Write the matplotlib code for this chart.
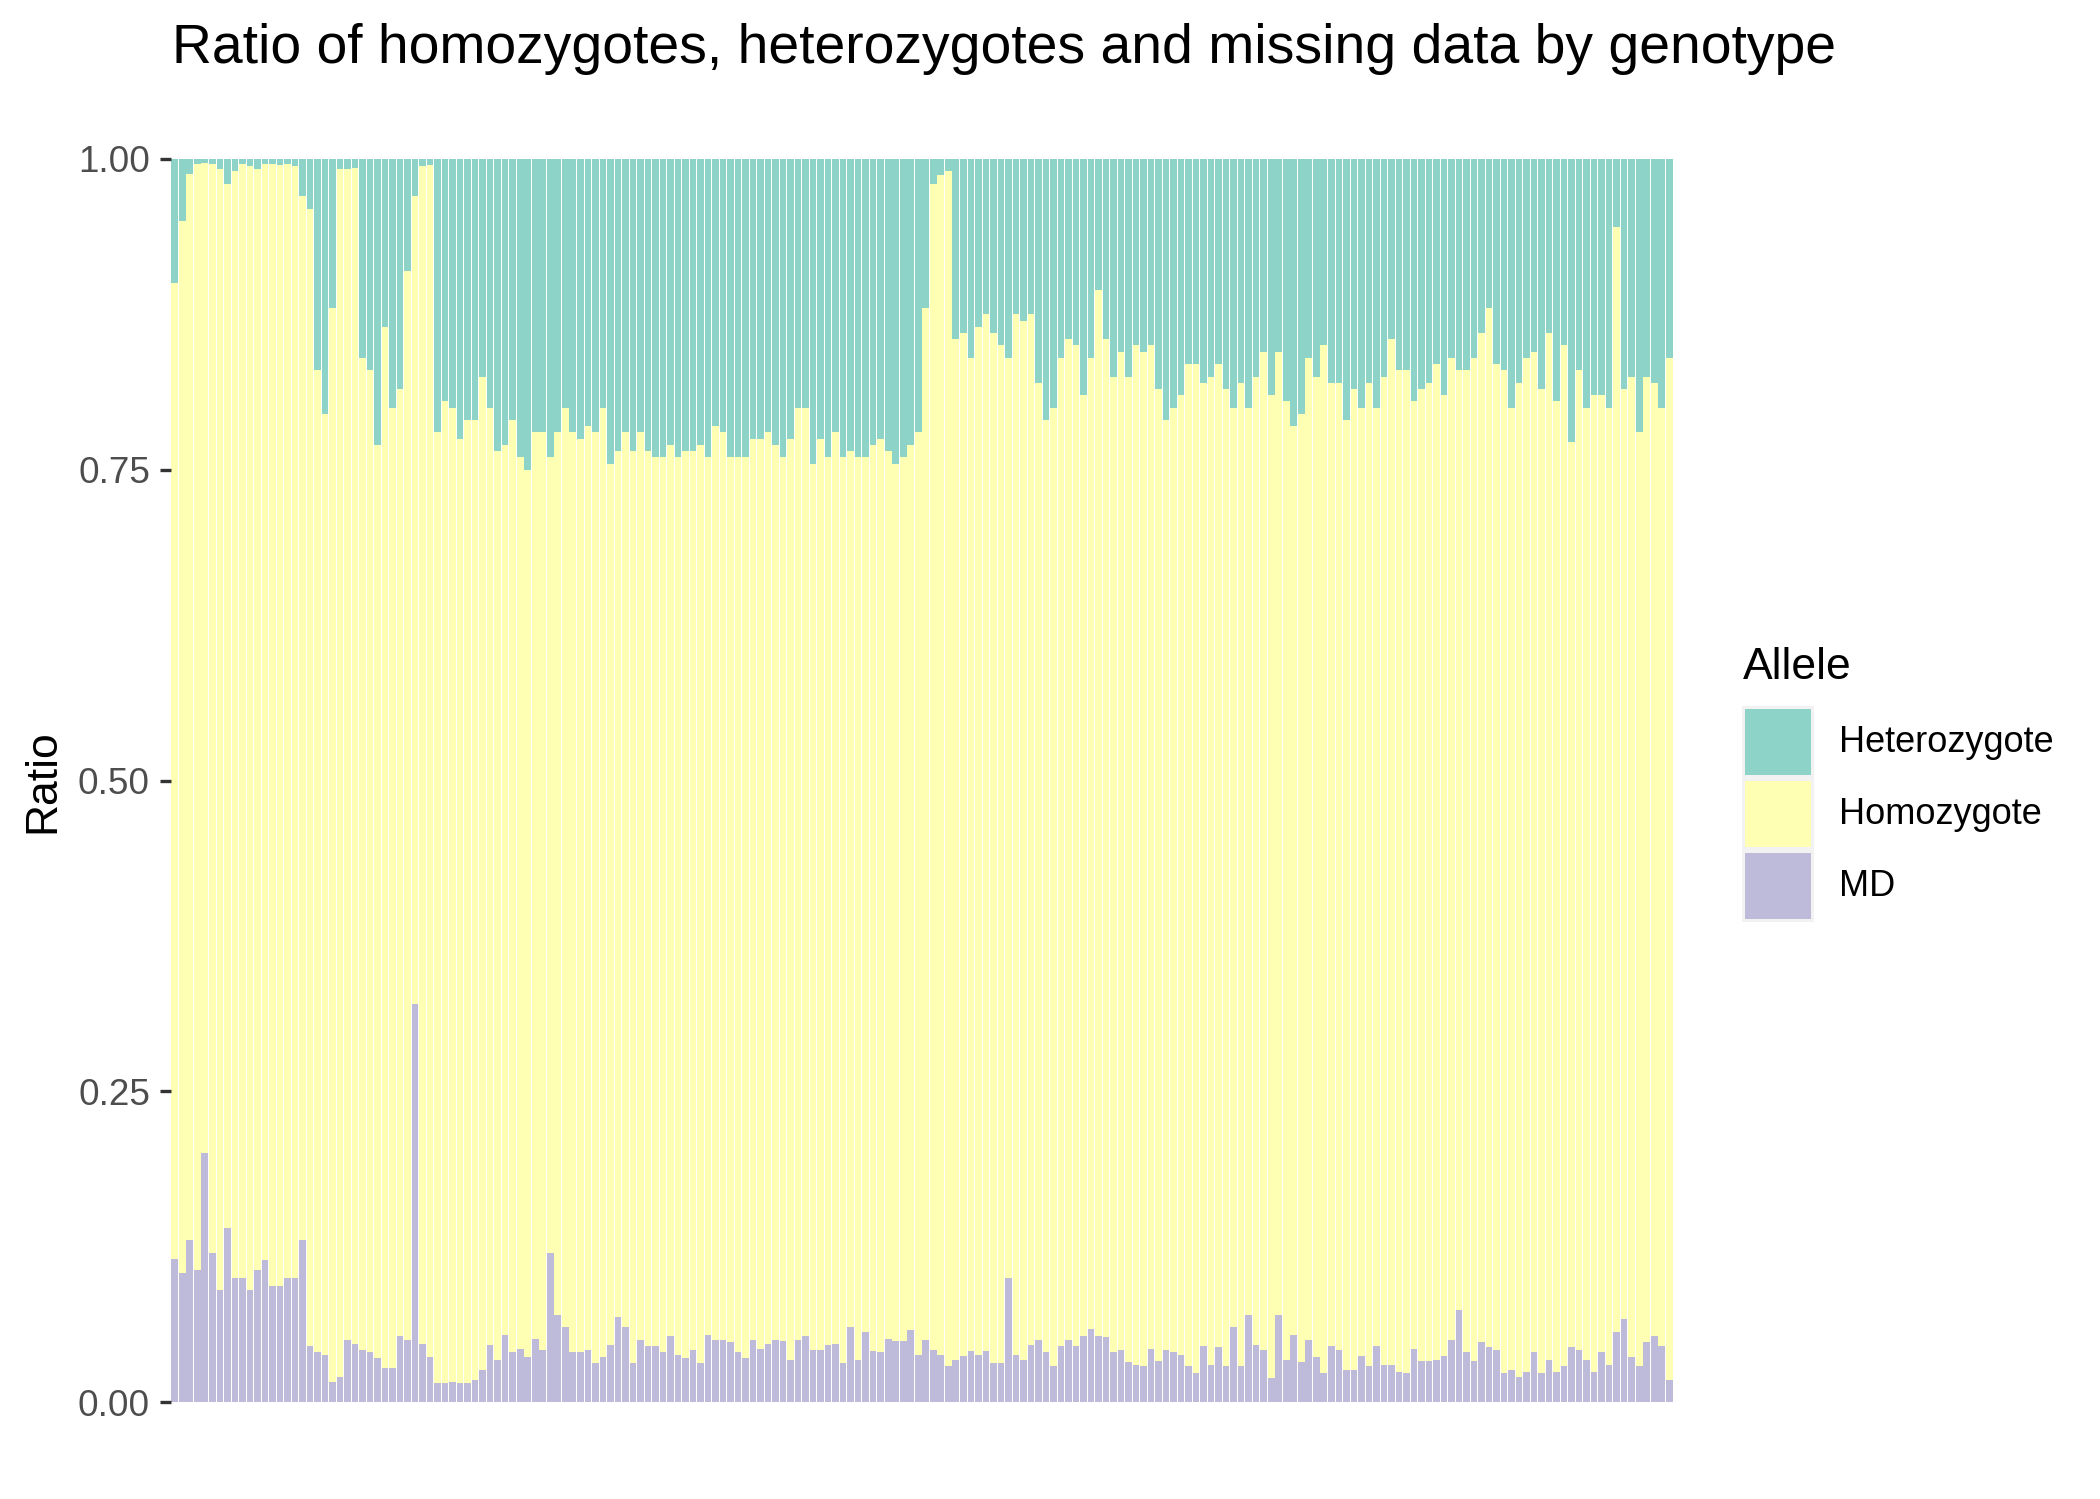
import numpy as np
import matplotlib
matplotlib.use("Agg")
import matplotlib.pyplot as plt
from matplotlib.patches import Rectangle

plt.rcParams['font.family'] = ['Liberation Sans', 'DejaVu Sans']

# heterozygote ratio per genotype (top part of each bar)
het = [
    0.10, 0.05, 0.012, 0.004, 0.003, 0.004, 0.008, 0.02, 0.01, 0.004,
    0.006, 0.008, 0.004, 0.004, 0.005, 0.004, 0.006, 0.03, 0.04, 0.17,
    0.205, 0.12, 0.008, 0.008, 0.007, 0.16, 0.17, 0.23, 0.135, 0.2,
    0.185, 0.09, 0.03, 0.006, 0.005, 0.22, 0.195, 0.2, 0.225, 0.21,
    0.21, 0.175, 0.2, 0.235, 0.23, 0.21, 0.24, 0.25, 0.22, 0.22,
    0.24, 0.22, 0.2, 0.22, 0.225, 0.215, 0.22, 0.2, 0.245, 0.235,
    0.22, 0.235, 0.22, 0.235, 0.24, 0.24, 0.23, 0.24, 0.235, 0.235,
    0.23, 0.24, 0.215, 0.22, 0.24, 0.24, 0.24, 0.225, 0.225, 0.22,
    0.23, 0.24, 0.225, 0.2, 0.2, 0.245, 0.225, 0.24, 0.22, 0.24,
    0.235, 0.24, 0.24, 0.23, 0.225, 0.235, 0.245, 0.24, 0.23, 0.22,
    0.12, 0.02, 0.013, 0.01, 0.145, 0.14, 0.16, 0.135, 0.125, 0.14,
    0.15, 0.16, 0.125, 0.13, 0.125, 0.18, 0.21, 0.2, 0.16, 0.145,
    0.15, 0.19, 0.16, 0.105, 0.145, 0.175, 0.155, 0.175, 0.15, 0.155,
    0.15, 0.185, 0.21, 0.2, 0.19, 0.165, 0.165, 0.18, 0.175, 0.165,
    0.185, 0.2, 0.18, 0.2, 0.175, 0.155, 0.19, 0.155, 0.195, 0.215,
    0.205, 0.16, 0.175, 0.15, 0.18, 0.18, 0.21, 0.185, 0.2, 0.18,
    0.2, 0.175, 0.145, 0.17, 0.17, 0.195, 0.185, 0.18, 0.165, 0.19,
    0.16, 0.17, 0.17, 0.16, 0.14, 0.12, 0.165, 0.17, 0.2, 0.18,
    0.16, 0.155, 0.185, 0.14, 0.195, 0.15, 0.228, 0.17, 0.2, 0.19,
    0.19, 0.2, 0.055, 0.185, 0.175, 0.22, 0.175, 0.18, 0.2, 0.16,
]

# missing data ratio per genotype (bottom part)
md = [
    0.115, 0.104, 0.13, 0.106, 0.2, 0.12, 0.09, 0.14, 0.1, 0.1,
    0.09, 0.106, 0.114, 0.093, 0.093, 0.1, 0.1, 0.13, 0.045, 0.04,
    0.038, 0.016, 0.02, 0.05, 0.047, 0.042, 0.04, 0.035, 0.027, 0.027,
    0.053, 0.05, 0.32, 0.047, 0.036, 0.015, 0.015, 0.016, 0.015, 0.015,
    0.018, 0.026, 0.046, 0.034, 0.054, 0.04, 0.043, 0.036, 0.051, 0.042,
    0.12, 0.07, 0.06, 0.04, 0.04, 0.042, 0.031, 0.036, 0.046, 0.068,
    0.06, 0.031, 0.05, 0.045, 0.045, 0.04, 0.053, 0.038, 0.035, 0.042,
    0.031, 0.054, 0.05, 0.05, 0.048, 0.04, 0.035, 0.05, 0.043, 0.047,
    0.05, 0.049, 0.034, 0.05, 0.053, 0.042, 0.042, 0.046, 0.047, 0.031,
    0.06, 0.034, 0.056, 0.041, 0.04, 0.051, 0.049, 0.049, 0.058, 0.038,
    0.05, 0.042, 0.038, 0.029, 0.034, 0.037, 0.041, 0.038, 0.041, 0.031,
    0.031, 0.1, 0.038, 0.034, 0.046, 0.05, 0.04, 0.029, 0.045, 0.05,
    0.045, 0.053, 0.059, 0.053, 0.052, 0.04, 0.042, 0.032, 0.03, 0.029,
    0.043, 0.033, 0.042, 0.04, 0.038, 0.029, 0.023, 0.045, 0.03, 0.044,
    0.029, 0.06, 0.029, 0.07, 0.046, 0.042, 0.019, 0.07, 0.034, 0.054,
    0.032, 0.05, 0.036, 0.023, 0.045, 0.042, 0.026, 0.026, 0.037, 0.029,
    0.045, 0.03, 0.03, 0.024, 0.023, 0.043, 0.033, 0.033, 0.034, 0.037,
    0.05, 0.074, 0.04, 0.033, 0.048, 0.044, 0.042, 0.023, 0.026, 0.02,
    0.024, 0.04, 0.023, 0.034, 0.024, 0.029, 0.044, 0.042, 0.034, 0.024,
    0.04, 0.03, 0.056, 0.067, 0.036, 0.029, 0.048, 0.053, 0.045, 0.018,
]

alleles = ["Heterozygote", "Homozygote", "MD"]
colors = {"Heterozygote": "#8DD3C7", "Homozygote": "#FFFFB3", "MD": "#BEBADA"}

het = np.array(het)
md = np.array(md)
homo = 1.0 - het - md
x = np.arange(len(het))

W, H = 2100, 1499
fig = plt.figure(figsize=(W / 200, H / 200), dpi=200)
ax = fig.add_axes([171 / W, 1 - 1402 / H, (1673 - 171) / W, (1402 - 159) / H])

bw = 0.88
ax.bar(x, md, width=bw, color=colors["MD"], linewidth=0)
ax.bar(x, homo, width=bw, bottom=md, color=colors["Homozygote"], linewidth=0)
ax.bar(x, het, width=bw, bottom=md + homo, color=colors["Heterozygote"], linewidth=0)

ax.set_xlim(-0.5, len(x) - 0.5)
ax.set_ylim(0, 1)
ax.set_xticks([])
ax.set_yticks([0, 0.25, 0.5, 0.75, 1.0])
ax.set_yticklabels(["0.00", "0.25", "0.50", "0.75", "1.00"])
ax.tick_params(axis='y', length=4, width=1.2, color='#333333', pad=3.6,
               labelsize=13.3, labelcolor='#4D4D4D')
for s in ax.spines.values():
    s.set_visible(False)

fig.text(172 / W, 1 - 63 / H, "Ratio of homozygotes, heterozygotes and missing data by genotype",
         fontsize=19.9, ha='left', va='baseline', color='black')
fig.text(43 / W, 1 - 781 / H, "Ratio", rotation=90, fontsize=16, ha='center', va='center')

# legend drawn by hand to match the ggplot layout
fig.text(1743 / W, 1 - 679 / H, "Allele", fontsize=16, ha='left', va='baseline')
cell = 72
top = 706
for i, a in enumerate(alleles):
    y0 = top + i * cell
    fig.add_artist(Rectangle((1742 / W, 1 - (y0 + cell) / H), cell / W, cell / H,
                             transform=fig.transFigure, facecolor='#F2F2F2', edgecolor='none'))
    fig.add_artist(Rectangle(((1742 + 3) / W, 1 - (y0 + cell - 3) / H), (cell - 6) / W, (cell - 6) / H,
                             transform=fig.transFigure, facecolor=colors[a], edgecolor='none'))
    fig.text(1839 / W, 1 - (y0 + cell / 2) / H, a, fontsize=13, ha='left', va='center')

fig.savefig("out.png", dpi=200)
